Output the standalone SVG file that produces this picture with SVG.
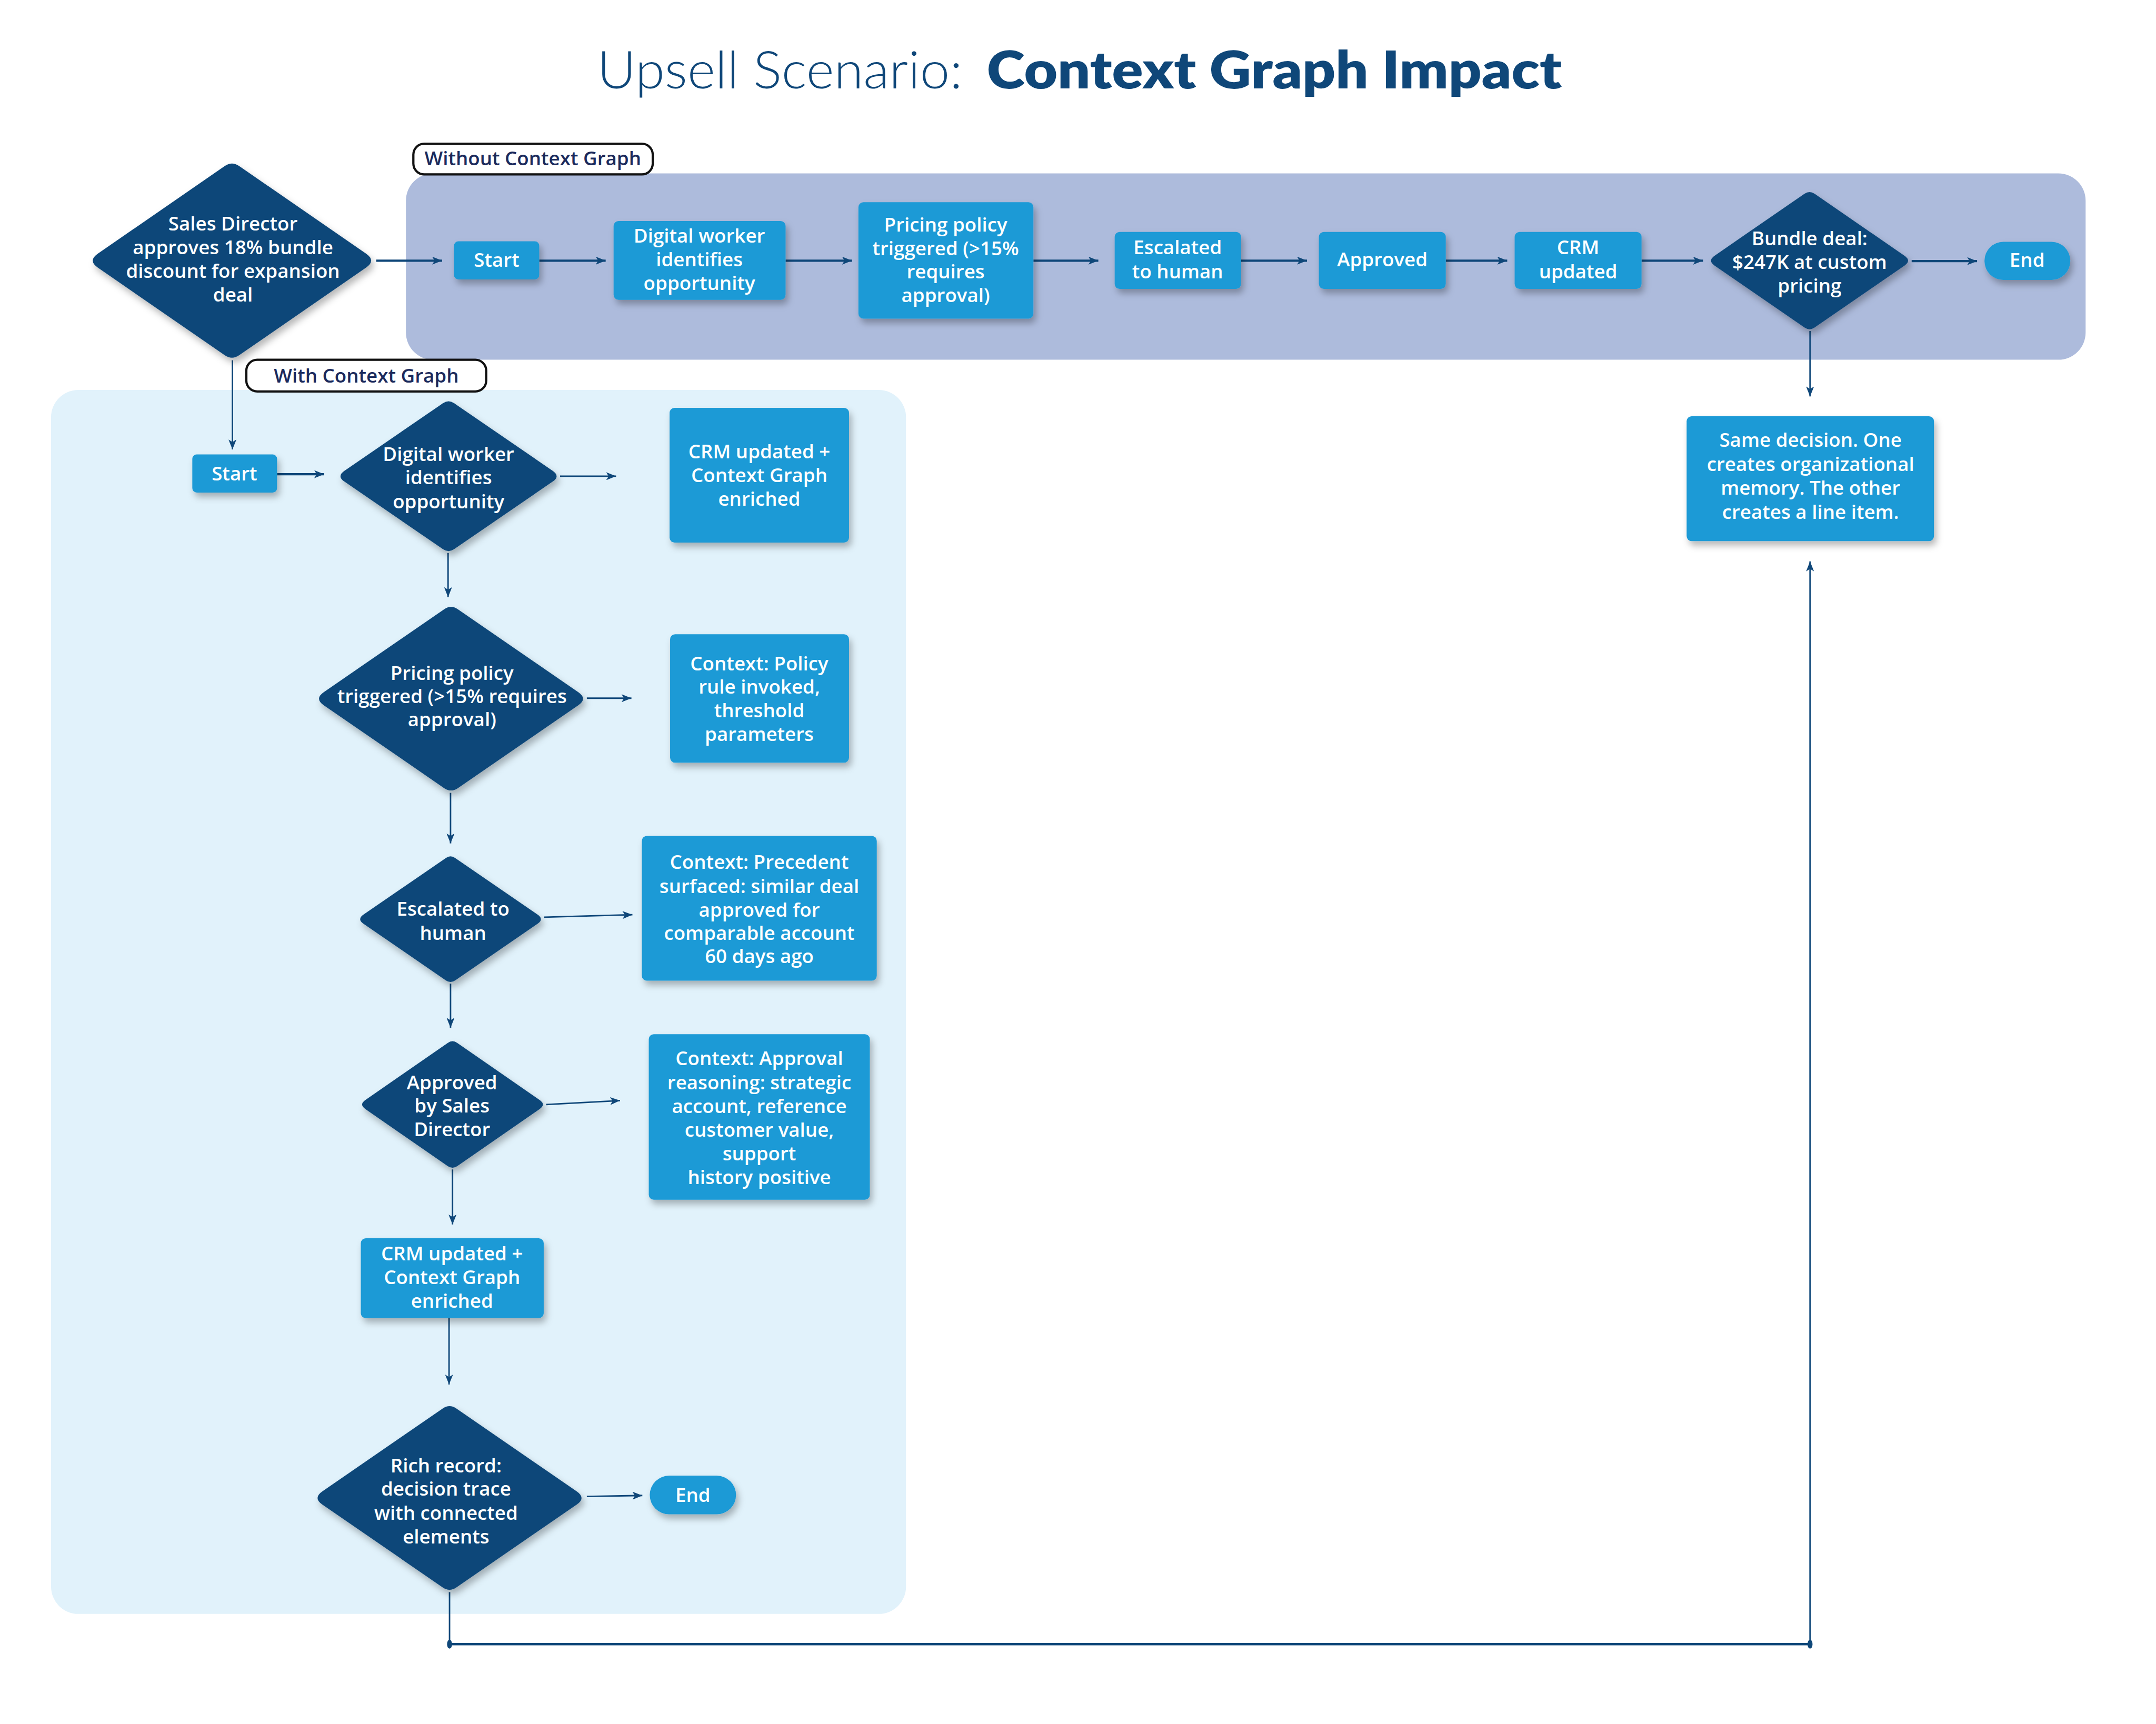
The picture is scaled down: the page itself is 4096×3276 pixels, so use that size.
<svg xmlns="http://www.w3.org/2000/svg" width="4096" height="3276" viewBox="0 0 4096 3276">
<defs>
<style>
.t{font-family:'Open Sans','Liberation Sans',sans-serif;font-size:39px;font-weight:600;fill:#ffffff;text-anchor:middle}
.box{fill:#1E9AD6}
.dia{fill:#0F4779}
.c{fill:none;stroke:#0F4779;stroke-width:4.5;marker-end:url(#ah)}
.cn{fill:none;stroke:#0F4779;stroke-width:3;marker-end:url(#ah)}
.lbl{fill:#ffffff;stroke:#111111;stroke-width:4.5}
.lt{font-family:'Open Sans','Liberation Sans',sans-serif;font-size:39px;font-weight:600;fill:#1B2A5C;text-anchor:middle}
.ttl{font-family:Lato,'Liberation Sans',sans-serif;font-size:104px;fill:#0F4779}
</style>
<filter id="sh" x="-20%" y="-20%" width="150%" height="150%">
<feDropShadow dx="5" dy="9" stdDeviation="7" flood-color="#000000" flood-opacity="0.28"/>
</filter>
<marker id="ah" markerUnits="userSpaceOnUse" markerWidth="20" markerHeight="16" refX="20" refY="8" orient="auto">
<path d="M0,0 L20,8 L0,16 L5,8 Z" fill="#0F4779"/>
</marker>
<path id="dshape" d="M0.05,-0.95 L0.93,-0.07 Q1,0 0.93,0.07 L0.05,0.95 Q0,1 -0.05,0.95 L-0.93,0.07 Q-1,0 -0.93,-0.07 L-0.05,-0.95 Q0,-1 0.05,-0.95 Z"/>
</defs>
<rect width="4096" height="3276" fill="#ffffff"/>
<g transform="scale(0.94161)">
<g id="title">
<text class="ttl" x="1205" y="178" font-weight="300" textLength="737" lengthAdjust="spacingAndGlyphs">Upsell Scenario:</text>
<text class="ttl" x="1991" y="178" font-weight="800" textLength="1160" lengthAdjust="spacingAndGlyphs">Context Graph Impact</text>
</g>
<g id="lanes">
<rect id="lane-without" x="819" y="350" width="3389" height="376" rx="55" fill="#ADBBDC"/>
<rect id="lane-with" x="103" y="787" width="1725" height="2470" rx="55" fill="#E1F2FB"/>
<g id="label-without"><rect class="lbl" x="834" y="290" width="483" height="62" rx="22"/><text class="lt" x="1075" y="334">Without Context Graph</text></g>
<g id="label-with"><rect class="lbl" x="497" y="726" width="484" height="64" rx="22"/><text class="lt" x="739" y="772">With Context Graph</text></g>
</g>
<g id="connectors">
<path class="c" d="M759,526 H892"/>
<path class="c" d="M1088,526 H1222"/>
<path class="c" d="M1585,526 H1719"/>
<path class="c" d="M2085,526 H2216"/>
<path class="c" d="M2504,526 H2637"/>
<path class="c" d="M2917,526 H3041"/>
<path class="c" d="M3312,526 H3436"/>
<path class="c" d="M3857,527 H3989"/>
<path class="cn" d="M3652,668 V800"/>
<path class="cn" d="M469,727 V907"/>
<path class="c" d="M559,957 H654"/>
<path class="cn" d="M1130,961 H1243"/>
<path class="cn" d="M904,1116 V1205"/>
<path class="cn" d="M1184,1409 H1274"/>
<path class="cn" d="M909,1600 V1702"/>
<path class="cn" d="M1098,1851 L1276,1846"/>
<path class="cn" d="M909,1985 V2074"/>
<path class="cn" d="M1102,2229 L1251,2221"/>
<path class="cn" d="M913,2360 V2471"/>
<path class="cn" d="M906,2660 V2794"/>
<path class="cn" d="M1184,3020 L1296,3018"/>
<path fill="none" stroke="#0F4779" stroke-width="3" d="M907,3213 V3318"/>
<path fill="none" stroke="#0F4779" stroke-width="5" d="M907,3318 H3652"/>
<path class="cn" d="M3652,3318 V1133"/>
<ellipse cx="907" cy="3318" rx="5" ry="9" fill="#0F4779"/>
<ellipse cx="3652" cy="3318" rx="5" ry="9" fill="#0F4779"/>
</g>
<g id="n-sales-director">
<g filter="url(#sh)"><use href="#dshape" class="dia" transform="translate(468,526) scale(291,201)"/></g>
<text class="t" x="470"><tspan x="470" y="465">Sales Director</tspan><tspan x="470" y="513">approves 18% bundle</tspan><tspan x="470" y="561">discount for expansion</tspan><tspan x="470" y="609">deal</tspan></text>
</g>
<g id="n-start-1">
<rect class="box" filter="url(#sh)" x="916" y="487" width="172" height="77" rx="9"/>
<text class="t" x="1002" y="538">Start</text>
</g>
<g id="n-digital-1">
<rect class="box" filter="url(#sh)" x="1238" y="446" width="347" height="159" rx="10"/>
<text class="t"><tspan x="1411" y="490">Digital worker</tspan><tspan x="1411" y="537">identifies</tspan><tspan x="1411" y="585">opportunity</tspan></text>
</g>
<g id="n-pricing-1">
<rect class="box" filter="url(#sh)" x="1732" y="408" width="353" height="235" rx="10"/>
<text class="t"><tspan x="1908" y="467">Pricing policy</tspan><tspan x="1908" y="515">triggered (&gt;15%</tspan><tspan x="1908" y="562">requires</tspan><tspan x="1908" y="610">approval)</tspan></text>
</g>
<g id="n-escalated-1">
<rect class="box" filter="url(#sh)" x="2249" y="468" width="255" height="115" rx="10"/>
<text class="t"><tspan x="2376" y="513">Escalated</tspan><tspan x="2376" y="562">to human</tspan></text>
</g>
<g id="n-approved-1">
<rect class="box" filter="url(#sh)" x="2661" y="468" width="256" height="115" rx="10"/>
<text class="t" x="2789" y="537">Approved</text>
</g>
<g id="n-crm-1">
<rect class="box" filter="url(#sh)" x="3056" y="468" width="256" height="115" rx="10"/>
<text class="t"><tspan x="3184" y="513">CRM</tspan><tspan x="3184" y="562">updated</tspan></text>
</g>
<g id="n-bundle">
<g filter="url(#sh)"><use href="#dshape" class="dia" transform="translate(3651,526) scale(206,142)"/></g>
<text class="t"><tspan x="3651" y="495">Bundle deal:</tspan><tspan x="3651" y="543">$247K at custom</tspan><tspan x="3651" y="590">pricing</tspan></text>
</g>
<g id="n-end-1">
<rect class="box" filter="url(#sh)" x="4004" y="488" width="173" height="77" rx="38"/>
<text class="t" x="4090" y="538">End</text>
</g>
<g id="n-same-decision">
<rect class="box" filter="url(#sh)" x="3403" y="840" width="499" height="252" rx="10"/>
<text class="t"><tspan x="3653" y="902">Same decision. One</tspan><tspan x="3653" y="950">creates organizational</tspan><tspan x="3653" y="998">memory. The other</tspan><tspan x="3653" y="1047">creates a line item.</tspan></text>
</g>
<g id="n-start-2">
<rect class="box" filter="url(#sh)" x="388" y="917" width="171" height="77" rx="9"/>
<text class="t" x="473" y="970">Start</text>
</g>
<g id="n-digital-2">
<g filter="url(#sh)"><use href="#dshape" class="dia" transform="translate(905,961) scale(226,155)"/></g>
<text class="t"><tspan x="905" y="930">Digital worker</tspan><tspan x="905" y="977">identifies</tspan><tspan x="905" y="1026">opportunity</tspan></text>
</g>
<g id="n-crm-context-1">
<rect class="box" filter="url(#sh)" x="1351" y="823" width="362" height="272" rx="10"/>
<text class="t"><tspan x="1532" y="925">CRM updated +</tspan><tspan x="1532" y="973">Context Graph</tspan><tspan x="1532" y="1021">enriched</tspan></text>
</g>
<g id="n-pricing-2">
<g filter="url(#sh)"><use href="#dshape" class="dia" transform="translate(910,1410) scale(276,190)"/></g>
<text class="t"><tspan x="912" y="1372">Pricing policy</tspan><tspan x="912" y="1419">triggered (&gt;15% requires</tspan><tspan x="912" y="1466">approval)</tspan></text>
</g>
<g id="n-context-policy">
<rect class="box" filter="url(#sh)" x="1352" y="1280" width="361" height="259" rx="10"/>
<text class="t"><tspan x="1532" y="1353">Context: Policy</tspan><tspan x="1532" y="1400">rule invoked,</tspan><tspan x="1532" y="1447">threshold</tspan><tspan x="1532" y="1495">parameters</tspan></text>
</g>
<g id="n-escalated-2">
<g filter="url(#sh)"><use href="#dshape" class="dia" transform="translate(909,1855) scale(189,130)"/></g>
<text class="t"><tspan x="914" y="1848">Escalated to</tspan><tspan x="914" y="1897">human</tspan></text>
</g>
<g id="n-context-precedent">
<rect class="box" filter="url(#sh)" x="1295" y="1687" width="474" height="292" rx="10"/>
<text class="t"><tspan x="1532" y="1753">Context: Precedent</tspan><tspan x="1532" y="1802">surfaced: similar deal</tspan><tspan x="1532" y="1850">approved for</tspan><tspan x="1532" y="1897">comparable account</tspan><tspan x="1532" y="1944">60 days ago</tspan></text>
</g>
<g id="n-approved-2">
<g filter="url(#sh)"><use href="#dshape" class="dia" transform="translate(913,2229) scale(189,131)"/></g>
<text class="t"><tspan x="912" y="2198">Approved</tspan><tspan x="912" y="2245">by Sales</tspan><tspan x="912" y="2293">Director</tspan></text>
</g>
<g id="n-context-approval">
<rect class="box" filter="url(#sh)" x="1309" y="2087" width="446" height="334" rx="10"/>
<text class="t"><tspan x="1532" y="2150">Context: Approval</tspan><tspan x="1532" y="2198">reasoning: strategic</tspan><tspan x="1532" y="2246">account, reference</tspan><tspan x="1532" y="2294">customer value,</tspan><tspan x="1532" y="2342">support</tspan><tspan x="1532" y="2390">history positive</tspan></text>
</g>
<g id="n-crm-2">
<rect class="box" filter="url(#sh)" x="728" y="2499" width="369" height="161" rx="10"/>
<text class="t"><tspan x="912" y="2543">CRM updated +</tspan><tspan x="912" y="2591">Context Graph</tspan><tspan x="912" y="2639">enriched</tspan></text>
</g>
<g id="n-rich-record">
<g filter="url(#sh)"><use href="#dshape" class="dia" transform="translate(907,3023) scale(276,190)"/></g>
<text class="t"><tspan x="900" y="2971">Rich record:</tspan><tspan x="900" y="3018">decision trace</tspan><tspan x="900" y="3067">with connected</tspan><tspan x="900" y="3115">elements</tspan></text>
</g>
<g id="n-end-2">
<rect class="box" filter="url(#sh)" x="1311" y="2978" width="174" height="78" rx="39"/>
<text class="t" x="1398" y="3031">End</text>
</g>
</g>
</svg>
